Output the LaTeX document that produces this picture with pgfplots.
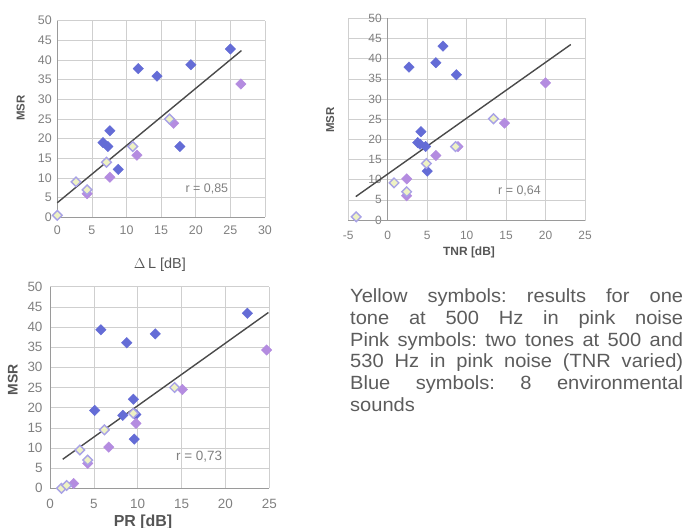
\documentclass[border=0pt]{standalone}
\usepackage{fontspec}
\usepackage{pgfplots}
\pgfplotsset{compat=1.18}
\setmainfont{Liberation Sans}
\newfontfamily\notefont[FakeStretch=1.05]{Liberation Sans}

\definecolor{blueM}{HTML}{646CD6}
\definecolor{pinkM}{HTML}{B48CE0}
\definecolor{yelF}{HTML}{EEF2C4}
\definecolor{yelD}{HTML}{A8A2E6}
\definecolor{gridc}{HTML}{CFCFCF}
\definecolor{axisc}{HTML}{9A9A9A}
\definecolor{tickc}{HTML}{808080}
\definecolor{labc}{HTML}{555555}
\definecolor{linec}{HTML}{4A4A4A}
\definecolor{textc}{HTML}{5C5C5C}

\pgfplotsset{
  msr/.style={
    scale only axis, anchor=south west,
    ymin=0, ymax=50, ytick={0,5,...,50},
    grid=major, grid style={gridc, line width=0.6bp},
    major tick length=0pt,
    tick label style={text=tickc},
    /pgf/number format/assume math mode=true,
    label style={text=labc},
    ylabel={MSR},
    clip=false,
  },
  bluemk/.style={only marks, mark=square*, mark size=3.7bp,
    mark options={rotate=45, fill=blueM, draw=blueM}},
  pinkmk/.style={only marks, mark=square*, mark size=3.7bp,
    mark options={rotate=45, fill=pinkM, draw=pinkM}},
  yelmk/.style={only marks, mark=square*, mark size=3.4bp,
    mark options={rotate=45, fill=yelF, draw=yelD, line width=1.4bp}},
  fitline/.style={no marks, linec, line width=1.4bp},
}

\begin{document}
\begin{tikzpicture}
\useasboundingbox (0,0) rectangle (685bp,528bp);
\clip (0,0) rectangle (685bp,528bp);

% --- MSR vs level difference ---
\begin{axis}[msr,
  at={(57.3bp,310.7bp)}, width=207.7bp, height=196.6bp,
  xmin=0, xmax=30, xtick={0,5,...,30},
  axis x line*=bottom, axis y line*=left,
  axis line style={axisc, line width=0.8bp},
  tick label style={font=\fontsize{12.5}{14}\selectfont},
  xticklabel style={yshift=-5bp},
  yticklabel style={xshift=-2bp},
  xlabel={$\Delta$\,L [dB]},
  xlabel style={font=\fontsize{14.5}{16}\selectfont, at={(axis description cs:0.494,-0.243)}, anchor=center},
  ylabel style={font=\bfseries\fontsize{11.5}{13}\selectfont, at={(axis description cs:-0.176,0.556)}, anchor=center, rotate=0},
]
\addplot[bluemk] coordinates {(6.6,19) (7.3,18) (7.6,22) (8.8,12.2) (11.7,37.8)
  (14.4,35.9) (17.7,18) (19.3,38.8) (25.0,42.8)};
\addplot[pinkmk] coordinates {(4.3,6) (7.6,10.2) (11.5,15.8) (16.8,23.9) (26.5,33.9)};
\addplot[yelmk] coordinates {(0,0.5) (2.7,9) (4.3,7) (7.1,14) (10.9,18) (16.2,25)};
\addplot[fitline] coordinates {(0,3.7) (26.6,42.4)};
\node[text=tickc, font=\fontsize{12.5}{14}\selectfont] at (axis cs:21.6,7.1) {r = 0,85};
\end{axis}

% --- MSR vs tone-to-noise ratio ---
\begin{axis}[msr,
  at={(348.3bp,308bp)}, width=236.7bp, height=201.7bp,
  xmin=-5, xmax=25, xtick={-5,0,...,25},
  axis line style={gridc, line width=0.6bp},
  tick label style={font=\fontsize{12}{14}\selectfont},
  xticklabel style={yshift=-8bp},
  yticklabel style={xshift=37bp},
  xlabel={TNR [dB]},
  xlabel style={font=\bfseries\fontsize{12}{14}\selectfont, at={(axis description cs:0.51,-0.159)}, anchor=center},
  ylabel style={font=\bfseries\fontsize{11.5}{13}\selectfont, at={(axis description cs:-0.077,0.496)}, anchor=center, rotate=0},
]
\draw[axisc, line width=0.8bp] (axis cs:0,0) -- (axis cs:0,50);
\draw[axisc, line width=0.8bp] (axis cs:-5,0) -- (axis cs:25,0);
\addplot[bluemk] coordinates {(2.7,37.9) (3.8,19.2) (4.1,18.8) (4.2,21.9) (4.8,18.2)
  (5.0,12.1) (6.1,39) (7.0,43.1) (8.7,36.0)};
\addplot[pinkmk] coordinates {(2.4,10.2) (2.4,6) (6.1,16) (8.9,18.2) (14.8,24) (20,34)};
\addplot[yelmk] coordinates {(-4,0.8) (0.8,9.2) (2.4,7) (4.9,14) (8.6,18.2) (13.4,25.1)};
\addplot[fitline] coordinates {(-4.05,5.8) (23.2,43.5)};
\node[text=tickc, font=\fontsize{12.5}{14}\selectfont] at (axis cs:16.7,7.3) {r = 0,64};
\end{axis}

% --- MSR vs prominence ratio ---
\begin{axis}[msr,
  at={(50bp,39.7bp)}, width=219.3bp, height=201.6bp,
  xmin=0, xmax=25, xtick={0,5,...,25},
  axis x line*=bottom, axis y line*=left,
  axis line style={axisc, line width=0.8bp},
  tick label style={font=\fontsize{13.5}{15}\selectfont},
  xticklabel style={yshift=-7bp},
  yticklabel style={xshift=-4bp},
  xlabel={PR [dB]},
  xlabel style={font=\bfseries\fontsize{16}{18}\selectfont, at={(axis description cs:0.424,-0.167)}, anchor=center},
  ylabel style={font=\bfseries\fontsize{14}{16}\selectfont, at={(axis description cs:-0.17,0.537)}, anchor=center, rotate=0},
]
\addplot[bluemk] coordinates {(5.1,19.3) (5.8,39.3) (8.3,18.1) (8.75,36.1) (9.5,22.1)
  (9.8,18.3) (9.6,12.2) (12.0,38.3) (22.5,43.4)};
\addplot[pinkmk] coordinates {(2.7,1.2) (4.3,6.2) (6.7,10.2) (9.8,16.1) (15.1,24.5) (24.7,34.3)};
\addplot[yelmk] coordinates {(1.3,0) (1.9,0.7) (3.4,9.5) (4.3,7) (6.2,14.5) (9.5,18.6) (14.2,25.0)};
\addplot[fitline] coordinates {(1.45,7.2) (24.9,43.6)};
\node[text=tickc, font=\fontsize{13.5}{15}\selectfont] at (axis cs:17.0,7.8) {r = 0,73};
\end{axis}

% --- note on the symbols ---
\node[anchor=north west, inner sep=0pt, text width=333bp, align=justify, text=textc,
  font=\notefont\fontsize{19.2}{21.8}\selectfont] at (350bp,239.3bp)
  {\frenchspacing\hyphenpenalty=10000\tolerance=10000
   Yellow symbols: results for one\linebreak
   tone at 500 Hz in pink noise\linebreak
   Pink symbols: two tones at 500 and\linebreak
   530 Hz in pink noise (TNR varied)\linebreak
   Blue symbols: 8 environmental\linebreak
   sounds};
\end{tikzpicture}
\end{document}
